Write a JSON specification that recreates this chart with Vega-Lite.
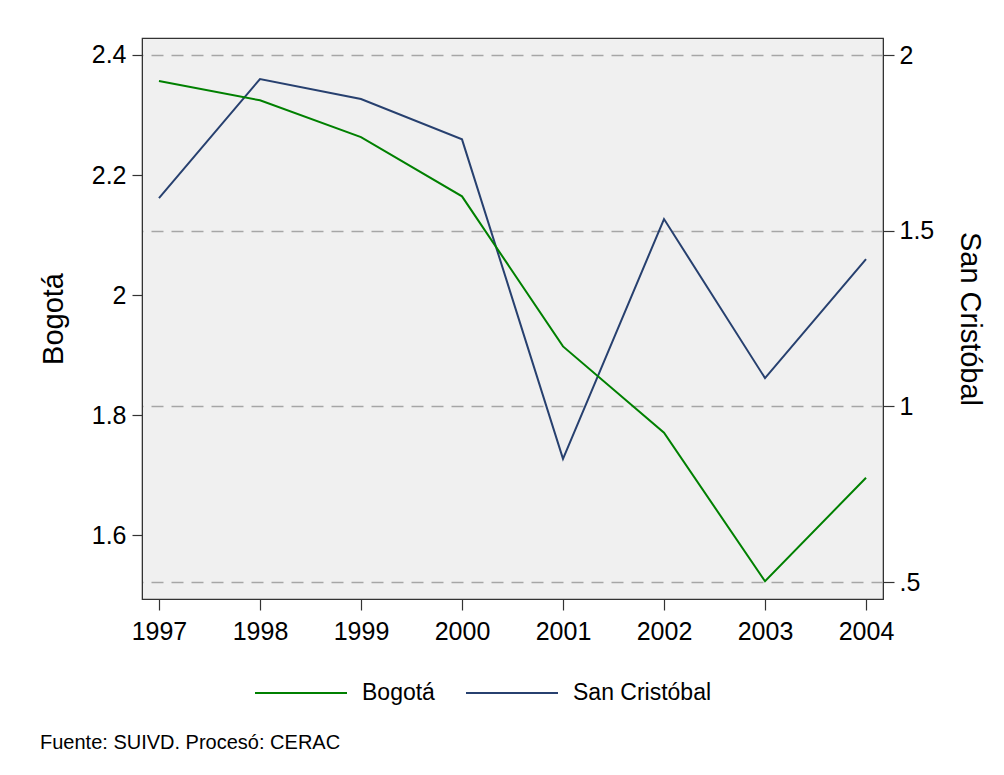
{
  "$schema": "https://vega.github.io/schema/vega-lite/v6.json",
  "width": 741,
  "height": 561,
  "autosize": {"type": "none"},
  "padding": {"left": 142, "top": 38, "right": 121, "bottom": 176},
  "background": "white",
  "config": {
    "font": "Liberation Sans",
    "view": {"fill": "#f0f0f0", "stroke": "#333333", "strokeWidth": 1.2},
    "axis": {
      "domainColor": "#333333",
      "tickColor": "#333333",
      "labelColor": "#000000",
      "titleColor": "#000000",
      "labelFont": "Liberation Sans",
      "titleFont": "Liberation Sans",
      "labelFontSize": 25,
      "titleFontSize": 29,
      "titleFontWeight": "normal",
      "tickSize": 10,
      "tickWidth": 1.2
    },
    "legend": {
      "orient": "none",
      "legendX": 112,
      "legendY": 608,
      "direction": "horizontal",
      "labelFont": "Liberation Sans",
      "labelFontSize": 23,
      "labelColor": "#000000",
      "symbolType": "stroke",
      "symbolSize": 8464,
      "symbolStrokeWidth": 2,
      "labelOffset": 14,
      "columnPadding": 27
    },
    "title": {
      "font": "Liberation Sans",
      "fontSize": 20,
      "fontWeight": "normal",
      "color": "#000000"
    }
  },
  "title": {
    "text": "Fuente: SUIVD. Procesó: CERAC",
    "orient": "bottom",
    "anchor": "start",
    "frame": "group",
    "dx": -102,
    "offset": 28
  },
  "data": {
    "values": [
      {"year": 1997, "serie": "Bogotá", "value": 2.3567},
      {"year": 1998, "serie": "Bogotá", "value": 2.3245},
      {"year": 1999, "serie": "Bogotá", "value": 2.2633},
      {"year": 2000, "serie": "Bogotá", "value": 2.1645},
      {"year": 2001, "serie": "Bogotá", "value": 1.9145},
      {"year": 2002, "serie": "Bogotá", "value": 1.7707},
      {"year": 2003, "serie": "Bogotá", "value": 1.5233},
      {"year": 2004, "serie": "Bogotá", "value": 1.6957},
      {"year": 1997, "serie": "San Cristóbal", "value": 1.593},
      {"year": 1998, "serie": "San Cristóbal", "value": 1.9317},
      {"year": 1999, "serie": "San Cristóbal", "value": 1.8748},
      {"year": 2000, "serie": "San Cristóbal", "value": 1.760},
      {"year": 2001, "serie": "San Cristóbal", "value": 0.8512},
      {"year": 2002, "serie": "San Cristóbal", "value": 1.5332},
      {"year": 2003, "serie": "San Cristóbal", "value": 1.0807},
      {"year": 2004, "serie": "San Cristóbal", "value": 1.4194}
    ]
  },
  "layer": [
    {
      "transform": [{"filter": "datum.serie == 'San Cristóbal'"}],
      "mark": {"type": "line", "strokeWidth": 2, "clip": true},
      "encoding": {
        "x": {
          "field": "year", "type": "quantitative",
          "scale": {"domain": [1996.832, 2004.168], "nice": false, "zero": false},
          "axis": {"values": [1997, 1998, 1999, 2000, 2001, 2002, 2003, 2004], "format": "d", "title": null, "grid": false, "tickSize": 11, "labelPadding": 9, "labelFlush": false}
        },
        "y": {
          "field": "value", "type": "quantitative",
          "scale": {"domain": [0.4522, 2.0484], "nice": false, "zero": false},
          "axis": {
            "orient": "right", "title": "San Cristóbal",
            "values": [0.5, 1, 1.5, 2],
            "labelExpr": "datum.value == 0.5 ? '.5' : format(datum.value, '~g')",
            "grid": true, "gridColor": "#a6a6a6", "gridDash": [12, 8], "gridWidth": 1.3,
            "tickSize": 11, "labelPadding": 5, "titlePadding": 21
          }
        },
        "color": {
          "field": "serie", "type": "nominal",
          "scale": {"domain": ["Bogotá", "San Cristóbal"], "range": ["#008000", "#27406f"]},
          "legend": {"title": null}
        }
      }
    },
    {
      "transform": [{"filter": "datum.serie == 'Bogotá'"}],
      "mark": {"type": "line", "strokeWidth": 2, "clip": true},
      "encoding": {
        "x": {"field": "year", "type": "quantitative"},
        "y": {
          "field": "value", "type": "quantitative",
          "scale": {"domain": [1.4937, 2.4283], "nice": false, "zero": false},
          "axis": {
            "orient": "left", "title": "Bogotá",
            "values": [1.6, 1.8, 2.0, 2.2, 2.4],
            "format": "~g",
            "grid": false,
            "labelPadding": 6, "titlePadding": 23
          }
        },
        "color": {"field": "serie", "type": "nominal"}
      }
    }
  ],
  "resolve": {"scale": {"y": "independent"}, "axis": {"y": "independent"}}
}
